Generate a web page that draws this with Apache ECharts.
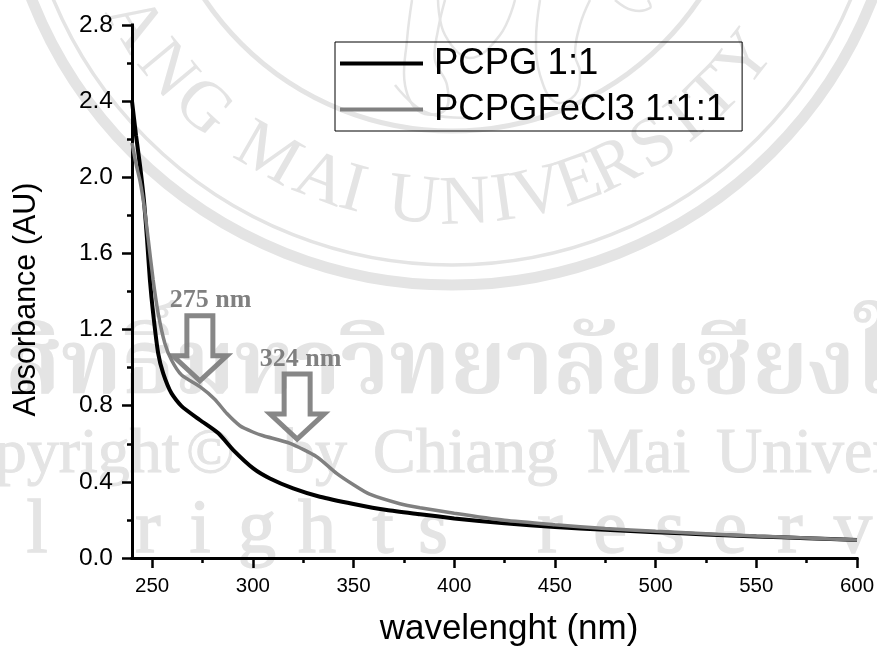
<!DOCTYPE html>
<html><head><meta charset="utf-8">
<style>html,body{margin:0;padding:0;background:#fff}#c{width:877px;height:647px}</style>
<script src="https://cdn.jsdelivr.net/npm/echarts@6/dist/echarts.min.js"></script>
</head><body><div id="c"></div>
<script>
const pcpgWl  = [240,242,244,246,247.5,248.9,250.5,253,255.5,259.6,264.6,273.7,282.9,290.3,300.2,308.5,320,333.3,350,366.5,383,400,425,450,475,500,525,550,575,600];
const pcpgAbs = [2.40,2.22,2.06,1.87,1.67,1.46,1.285,1.075,0.97,0.865,0.798,0.725,0.655,0.567,0.471,0.418,0.366,0.322,0.284,0.252,0.23,0.208,0.182,0.163,0.148,0.135,0.124,0.113,0.104,0.095];
const feWl    = [240,242,244,246,248,250.5,253,256.3,259.6,264.6,273.7,281.2,287,293.6,300,305.2,318.5,331.7,341.6,350,358,373,383,400,425,450,475,500,525,550,575,600];
const feAbs   = [2.18,2.07,1.98,1.85,1.68,1.46,1.285,1.128,1.04,0.961,0.90,0.833,0.76,0.695,0.662,0.642,0.602,0.532,0.445,0.385,0.335,0.285,0.264,0.235,0.198,0.175,0.155,0.14,0.127,0.115,0.105,0.095];
const seriesNames = ['PCPG 1:1','PCPGFeCl3 1:1:1'];
const xMajor = [250,300,350,400,450,500,550,600];
const xMinor = [275,325,375,425,475,525,575];
const arrowTips = [[273.7,0.926],[322,0.62]];
const arrowTexts = ['275 nm','324 nm'];
const wmRow2 = ['Copyright','©','by','Chiang','Mai','University'];
const wmRow2X = [-80,186,283,373,587,716];
const wmRow1 = 'สิทธิ์มหาวิทยาลัยเชียงใหม่';
const wmRow3Letters = ['l','r','i','g','h','t','s','r','e','s','e','r','v'];
const wmRow3X = [37,148,200,257,317,383,433,550,610,670,730,790,853];
const sealLetters = ['A','N','G','M','A','I','U','N','I','V','E','R','S','I','T','Y'];
const sealAngles = [-59,-50.3,-42.2,-29.8,-20.7,-15.5,-6,2,8,13.5,20,26,33,39,45,52.3];

const WM = '#e4e4e4';
const cx = 452, cy = -167;
const ring = (r, w) => ({type:'circle', z:-5, silent:true, shape:{cx, cy, r}, style:{fill:'none', stroke:WM, lineWidth:w}});
const wmText = (text, x, y, size, extra) => ({type:'text', z:-5, silent:true, x, y, style:Object.assign({text, fill:WM, stroke:WM, lineWidth:1.5, font:`${size}px "Liberation Serif", serif`, textAlign:'center', textVerticalAlign:'bottom'}, extra||{})});
const sketch = pts => ({type:'polyline', z:-5, silent:true, shape:{points:pts, smooth:0.4}, style:{fill:'none', stroke:WM, lineWidth:2.5}});
const wm = [
  ring(452,11), ring(432,3.5), ring(298,5),
  sketch([[412,0],[407,40],[405,85],[420,112],[445,110],[447,85],[435,60],[438,30],[445,0]]),
  sketch([[438,0],[445,35],[470,58],[500,35],[515,0]]),
  sketch([[540,0],[536,40],[540,75],[555,102],[575,95],[580,72],[575,55],[580,25],[590,0]]),
  sketch([[615,0],[632,10],[650,8],[648,0]]),
  sketch([[395,85],[425,112],[470,118]]),
  {type:'text', z:-5, silent:true, x:5, y:415, style:{text:wmRow1, fill:WM, font:'bold 90px "Liberation Serif", "Noto Serif Thai", "Noto Sans Thai", serif', textVerticalAlign:'bottom'}}
];
wmRow2.forEach((t,i)=>wm.push(wmText(t, wmRow2X[i], 487, 64, {textAlign:'left', lineWidth:1})));
wmRow3Letters.forEach((t,i)=>wm.push(wmText(t, wmRow3X[i], 570, 76)));
const SR = 372;
sealLetters.forEach((t,i)=>{
  const a = sealAngles[i]*Math.PI/180;
  wm.push({type:'text', z:-5, silent:true, x:cx+SR*Math.sin(a), y:cy+SR*Math.cos(a), rotation:a, originX:0, originY:0,
    style:{text:t, fill:WM, font:'70px "Liberation Serif", serif', textAlign:'center', textVerticalAlign:'middle'}});
});

const SANS = '"Liberation Sans", Arial, sans-serif';
const chart = echarts.init(document.getElementById('c'), null, {renderer:'canvas'});
chart.setOption({
  animation:false,
  backgroundColor:'#fff',
  graphic:{elements:wm},
  grid:{left:132, right:20, top:25, bottom:89, containLabel:false, outerBoundsMode:'none'},
  legend:{
    data:seriesNames, orient:'vertical', left:335, top:42, z:6,
    backgroundColor:'transparent', borderColor:'#000', borderWidth:1,
    padding:[1,16,1,5], itemWidth:83, itemHeight:4, itemGap:5, icon:'rect',
    textStyle:{fontFamily:SANS, fontSize:36.5, color:'#000', lineHeight:33, padding:[8,0,0,6]}
  },
  xAxis:[{
    type:'value', min:240, max:600, position:'bottom',
    name:'wavelenght (nm)', nameLocation:'middle', nameGap:54,
    nameTextStyle:{fontFamily:SANS, fontSize:35, color:'#000', padding:[0,0,0,29]},
    splitLine:{show:false},
    axisLine:{onZero:false, lineStyle:{color:'#000', width:3, cap:'square'}},
    axisTick:{customValues:xMajor, length:10, lineStyle:{color:'#000', width:2.5}},
    axisLabel:{customValues:xMajor, fontFamily:SANS, fontSize:20.5, color:'#000', margin:18, showMinLabel:true, showMaxLabel:true}
  },{
    type:'value', min:240, max:600, position:'bottom',
    splitLine:{show:false}, axisLine:{show:false},
    axisTick:{customValues:xMinor, length:5, lineStyle:{color:'#000', width:2.5}},
    axisLabel:{show:false}
  }],
  yAxis:{
    type:'value', min:0, max:2.8, interval:0.4,
    name:'Absorbance (AU)', nameLocation:'middle', nameGap:90, nameRotate:90,
    nameTextStyle:{fontFamily:SANS, fontSize:30.5, color:'#000', padding:[0,16,0,0]},
    splitLine:{show:false}, minorSplitLine:{show:false},
    axisLine:{onZero:false, lineStyle:{color:'#000', width:3, cap:'square'}},
    axisTick:{length:10, lineStyle:{color:'#000', width:2.5}},
    minorTick:{show:true, splitNumber:2, length:5, lineStyle:{color:'#000', width:2.5}},
    axisLabel:{fontFamily:SANS, fontSize:24.5, color:'#000', margin:19, formatter:v=>v.toFixed(1)}
  },
  series:[
    {name:seriesNames[0], type:'line', z:3, showSymbol:false, smooth:0.2, color:'#000', lineStyle:{width:4},
     data:pcpgWl.map((x,i)=>[x,pcpgAbs[i]])},
    {name:seriesNames[1], type:'line', z:4, showSymbol:false, smooth:0.2, color:'#808080', lineStyle:{width:3.5},
     data:feWl.map((x,i)=>[x,feAbs[i]])},
    {name:'arrows', type:'custom', z:5, silent:true, coordinateSystem:'cartesian2d',
     data:arrowTips.map((p,i)=>[p[0],p[1],i]),
     renderItem:(params,api)=>{
       const t = api.coord([api.value(0),api.value(1)]);
       const i = api.value(2);
       const s = [[-13,-66],[13,-66],[13,-26],[27,-26],[0,-1],[-27,-26],[-13,-26]];
       const tx = i===0 ? 10.7 : 3.4, ty = -68;
       return {type:'group', children:[
         {type:'polygon', shape:{points:s.map(q=>[t[0]+q[0],t[1]+q[1]])}, style:{fill:'none', stroke:'#7a7a7a', lineWidth:5, opacity:0.9}},
         {type:'text', x:t[0]+tx, y:t[1]+ty, style:{text:arrowTexts[i], fill:'#808080', font:'bold 26px "Liberation Serif", serif', textAlign:'center', textVerticalAlign:'bottom'}}
       ]};
     }}
  ]
});
</script></body></html>
